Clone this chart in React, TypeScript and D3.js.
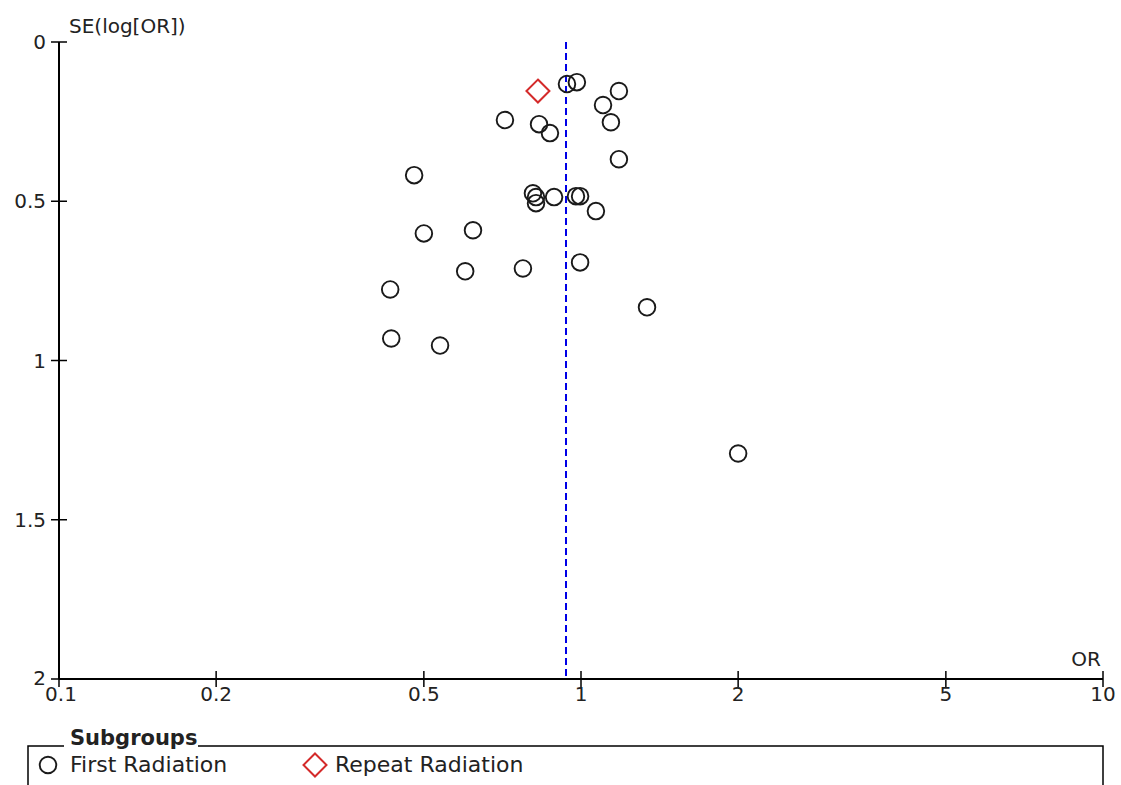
import React from "react";
import * as d3 from "d3";

// Study odds ratios and standard errors (First Radiation subgroup)
const firstOR = [0.94, 0.982, 1.182, 1.102, 1.141, 0.715, 0.831, 0.872, 1.182, 0.479, 0.809, 0.82, 0.82, 0.888, 0.978, 0.996, 1.068, 0.5, 0.621, 0.6, 0.774, 0.996, 0.431, 1.338, 0.433, 0.537, 2.0];
const firstSE = [0.132, 0.126, 0.154, 0.198, 0.252, 0.245, 0.258, 0.286, 0.368, 0.418, 0.475, 0.487, 0.506, 0.487, 0.484, 0.484, 0.531, 0.601, 0.591, 0.72, 0.711, 0.692, 0.777, 0.833, 0.931, 0.953, 1.292];
// Repeat Radiation subgroup
const repeatOR = [0.827];
const repeatSE = [0.154];
// Pooled estimate
const pooledOR = 0.936;

const xTicks = [0.1, 0.2, 0.5, 1, 2, 5, 10];
const yTicks = [0, 0.5, 1, 1.5, 2];
const legendLabels = ["First Radiation", "Repeat Radiation"];

const FONT = "'DejaVu Sans', sans-serif";
const TXT = "#222";

export default function App() {
  const W = 1121, H = 785;
  const x = d3.scaleLog().domain([0.1, 10]).range([59, 1103]);
  const y = d3.scaleLinear().domain([0, 2]).range([42, 679]);
  const x0 = x.range()[0], x1 = x.range()[1];
  const y0 = y.range()[0], y1 = y.range()[1];
  const diamond = (cx: number, cy: number, s: number) =>
    `M${cx},${cy - s}L${cx + s},${cy}L${cx},${cy + s}L${cx - s},${cy}Z`;

  return (
    <svg width={W} height={H} style={{ position: "absolute", left: 0, top: 0, background: "#fff" }}>
      <rect x={0} y={0} width={W} height={H} fill="#fff" />
      {/* pooled line */}
      <line x1={x(pooledOR)} x2={x(pooledOR)} y1={y0} y2={y1} stroke="#0000e6" strokeWidth={2} strokeDasharray="7,4" />
      {/* axes */}
      <line x1={x0} x2={x0} y1={y0} y2={y1} stroke="#000" strokeWidth={2} />
      <line x1={x0} x2={x1} y1={y1} y2={y1} stroke="#000" strokeWidth={2} />
      {yTicks.map((t) => (
        <g key={"y" + t}>
          <line x1={x0 - 8} x2={x0 + 8} y1={y(t)} y2={y(t)} stroke="#000" strokeWidth={1.5} />
          <text x={46} y={y(t) + (t === 2 ? 6 : 7)} textAnchor="end" fontFamily={FONT} fontSize={20} fill={TXT}>{String(t)}</text>
        </g>
      ))}
      {xTicks.map((t) => (
        <g key={"x" + t}>
          <line x1={x(t)} x2={x(t)} y1={y1 - 8} y2={y1 + 8} stroke="#000" strokeWidth={1.5} />
          <text x={x(t) + (t === 0.1 ? 2 : 0)} y={y1 + 22} textAnchor="middle" fontFamily={FONT} fontSize={20} fill={TXT}>{String(t)}</text>
        </g>
      ))}
      <text x={69} y={33} fontFamily={FONT} fontSize={20} fill={TXT}>SE(log[OR])</text>
      <text x={1101} y={666} textAnchor="end" fontFamily={FONT} fontSize={20} fill={TXT}>OR</text>
      {/* points */}
      {firstOR.map((v, i) => (
        <circle key={"c" + i} cx={x(v)} cy={y(firstSE[i])} r={8.3} fill="none" stroke="#1a1a1a" strokeWidth={1.9} />
      ))}
      {repeatOR.map((v, i) => (
        <path key={"d" + i} d={diamond(x(v), y(repeatSE[i]), 11.5)} fill="none" stroke="#d42a2a" strokeWidth={2} />
      ))}
      {/* legend */}
      <path d={`M64,746H28V800M198,746H1103V800`} fill="none" stroke="#000" strokeWidth={1.5} />
      <text x={70} y={745} fontFamily={FONT} fontSize={21} fontWeight="bold" fill={TXT}>Subgroups</text>
      <circle cx={48} cy={765} r={8.3} fill="none" stroke="#1a1a1a" strokeWidth={1.9} />
      <text x={70} y={772} fontFamily={FONT} fontSize={22} fill={TXT}>{legendLabels[0]}</text>
      <path d={diamond(315, 765, 11.5)} fill="none" stroke="#d42a2a" strokeWidth={2} />
      <text x={335} y={772} fontFamily={FONT} fontSize={22} fill={TXT}>{legendLabels[1]}</text>
    </svg>
  );
}
